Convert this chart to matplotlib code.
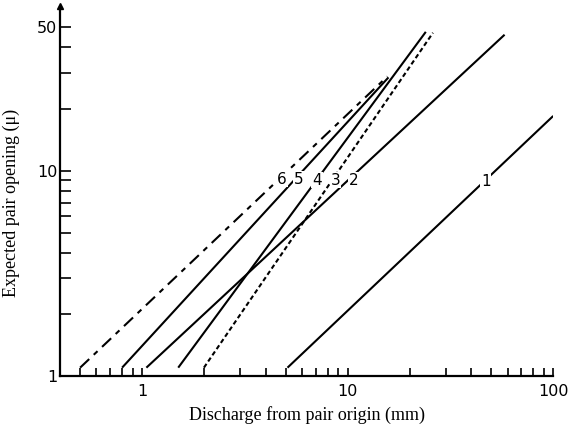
import matplotlib
matplotlib.use("Agg")
import matplotlib.pyplot as plt
from matplotlib.ticker import FixedLocator, FixedFormatter, NullFormatter

# Data (log-log straight lines)
line_ids = ['1', '2', '3', '4', '5', '6']
x_start = [5.1, 1.05, 2.0, 1.5, 0.8, 0.5]
y_start = [1.1, 1.1, 1.1, 1.1, 1.1, 1.1]
x_end = [100, 58, 26, 24, 15.8, 15.6]
y_end = [18.5, 46, 47, 47.5, 28.5, 28.8]
label_x = [47, 10.7, 8.7, 7.1, 5.8, 4.8]
label_y = [8.9, 9.0, 9.0, 9.0, 9.1, 9.1]

x_major = [1, 10, 100]
x_major_labels = ['1', '10', '100']
x_minor = [0.5, 0.6, 0.7, 0.8, 0.9, 2, 3, 4, 5, 6, 7, 8, 9,
           20, 30, 40, 50, 60, 70, 80, 90]
y_major = [1, 10, 50]
y_major_labels = ['1', '10', '50']
y_minor = [2, 3, 4, 5, 6, 7, 8, 9, 20, 30, 40]

styles = {
    '1': dict(ls='-'),
    '2': dict(ls='-'),
    '3': dict(ls=(0, (2.2, 1.4))),
    '4': dict(ls='-'),
    '5': dict(ls='-'),
    '6': dict(ls=(0, (6, 3, 2.5, 3))),
}

fig = plt.figure(figsize=(5.68, 4.26), dpi=100)
ax = fig.add_axes([0.106, 0.117, 0.868, 0.864])
ax.set_xscale('log')
ax.set_yscale('log')
ax.set_xlim(0.4, 100)
ax.set_ylim(1, 62)

for i, lid in enumerate(line_ids):
    ax.plot([x_start[i], x_end[i]], [y_start[i], y_end[i]], color='black',
            lw=1.5, solid_capstyle='butt', **styles[lid])
    ax.text(label_x[i], label_y[i], lid, ha='center', va='center',
            fontsize=11, family='DejaVu Sans', color='black',
            bbox=dict(facecolor='white', edgecolor='none', pad=0.6))

for s in ['top', 'right']:
    ax.spines[s].set_visible(False)
for s in ['left', 'bottom']:
    ax.spines[s].set_linewidth(1.6)

ax.xaxis.set_major_locator(FixedLocator(x_major))
ax.xaxis.set_major_formatter(FixedFormatter(x_major_labels))
ax.xaxis.set_minor_locator(FixedLocator(x_minor))
ax.xaxis.set_minor_formatter(NullFormatter())
ax.yaxis.set_major_locator(FixedLocator(y_major))
ax.yaxis.set_major_formatter(FixedFormatter(y_major_labels))
ax.yaxis.set_minor_locator(FixedLocator(y_minor))
ax.yaxis.set_minor_formatter(NullFormatter())

ax.tick_params(axis='x', which='both', direction='in', length=6, width=1.2,
               labelsize=11.5, pad=6)
ax.tick_params(axis='y', which='both', direction='in', length=8, width=1.2,
               labelsize=11.5, pad=2)

# arrow at top of y axis
ax.plot([0], [1.005], marker='^', color='black', markersize=5,
        transform=ax.transAxes, clip_on=False)

ax.set_xlabel('Discharge from pair origin (mm)', family='Liberation Serif',
              fontsize=13, labelpad=5)
ax.set_ylabel('Expected pair opening (\u03bc)', family='Liberation Serif',
              fontsize=13)
ax.yaxis.set_label_coords(-0.082, 0.47)

fig.savefig('out.png', dpi=100)
